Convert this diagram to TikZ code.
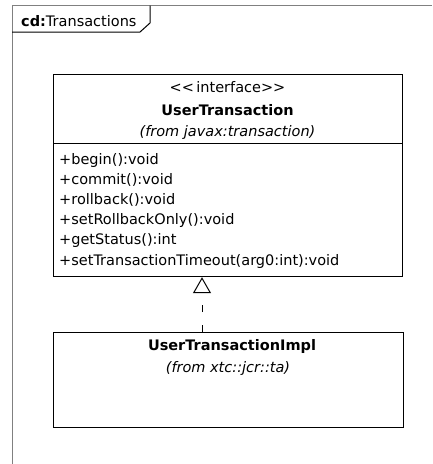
\documentclass[tikz,border=0pt]{standalone}
\usepackage{fontspec}
\setmainfont{DejaVu Sans}
\usetikzlibrary{arrows.meta}
\begin{document}
\begin{tikzpicture}[x=1pt,y=-1pt,
  txt/.style={inner sep=0pt,font=\fontsize{14.5}{17}\selectfont},
  classbox/.style={draw=black,line width=1.2pt,inner sep=0pt,anchor=north west},
  frameline/.style={draw=black!50,line width=1pt},
  realize/.style={line width=1pt,dash pattern=on 7pt off 13pt,
    -{Triangle[open,width=18pt,length=16pt,line width=1pt]}}]
  \useasboundingbox (0,0) rectangle (432,464);

  % diagram frame and its name tab
  \draw[frameline] (12,464) -- (12,5.5) -- (432,5.5);
  \draw[line width=1pt] (12,32) -- (140,32) -- (150,23) -- (150,5.5);
  \node[txt,anchor=base west] (title) at (21,26) {\textbf{cd:}Transactions};

  % interface UserTransaction
  \node[classbox,minimum width=349pt,minimum height=202pt] (iface) at (53,74) {};
  \draw[line width=1pt] (53,143) -- (402,143);
  \node[txt,anchor=base] (stereo) at (227.5,92) {{<}{<}\,interface{>}{>}};
  \node[txt,anchor=base] (ifname) at (227.5,115) {\textbf{UserTransaction}};
  \node[txt,anchor=base] (ifpkg) at (227.5,136) {\itshape (from javax:transaction)};
  \foreach \i/\op in {1/{+begin():void},2/{+commit():void},3/{+rollback():void},
      4/{+setRollbackOnly():void},5/{+getStatus():int},
      6/{+setTransactionTimeout(arg0:int):void}}
    \node[txt,anchor=base west] (op\i) at (59,164+20.2*\i-20.2) {\op};

  % class UserTransactionImpl
  \node[classbox,minimum width=350pt,minimum height=95pt] (impl) at (53,332) {};
  \node[txt,anchor=base] (implname) at (232,350) {\textbf{UserTransactionImpl}};
  \node[txt,anchor=base] (implpkg) at (228,372) {\itshape (from xtc::jcr::ta)};

  % realization
  \draw[realize] (impl.north -| 202,0) -- (iface.south -| 202,0);
\end{tikzpicture}
\end{document}
